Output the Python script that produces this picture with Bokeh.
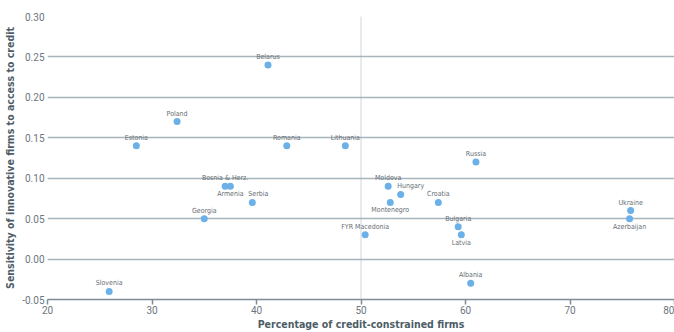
from bokeh.plotting import figure
from bokeh.models import ColumnDataSource, Span, FixedTicker, CustomJSTickFormatter
from bokeh.core.properties import value
from bokeh.embed import file_html
from bokeh.resources import INLINE

countries = ["Belarus", "Poland", "Estonia", "Romania", "Lithuania", "Russia",
             "Bosnia & Herz.", "Armenia", "Serbia", "Georgia", "Slovenia",
             "Moldova", "Hungary", "Montenegro", "Croatia", "FYR Macedonia",
             "Bulgaria", "Latvia", "Albania", "Ukraine", "Azerbaijan"]
credit_constrained = [41.1, 32.4, 28.5, 42.9, 48.5, 61.0,
                      37.0, 37.5, 39.6, 35.0, 25.9,
                      52.6, 53.8, 52.8, 57.4, 50.4,
                      59.3, 59.6, 60.5, 75.8, 75.7]
sensitivity = [0.24, 0.17, 0.14, 0.14, 0.14, 0.12,
               0.09, 0.09, 0.07, 0.05, -0.04,
               0.09, 0.08, 0.07, 0.07, 0.03,
               0.04, 0.03, -0.03, 0.06, 0.05]
x_ticks = [20, 30, 40, 50, 60, 70, 80]
y_ticks = [-0.05, 0.0, 0.05, 0.10, 0.15, 0.20, 0.25, 0.30]

# label placement (style only)
label_below = ["Armenia", "Montenegro", "Latvia", "Azerbaijan"]
label_shift_px = {"Hungary": 10, "Serbia": 6}

COND = "DejaVu Sans Condensed"


def subset(flag):
    idx = [i for i, c in enumerate(countries) if (c in label_below) == flag]
    return ColumnDataSource(dict(
        x=[credit_constrained[i] for i in idx],
        y=[sensitivity[i] for i in idx],
        t=[countries[i] for i in idx],
        dx=[label_shift_px.get(countries[i], 0) for i in idx]))


src_above = subset(False)
src_below = subset(True)
src = ColumnDataSource(dict(x=credit_constrained, y=sensitivity))

p = figure(width=674, height=332, x_range=(20, 80), y_range=(-0.05, 0.30),
           output_backend="svg", toolbar_location=None,
           min_border_top=16, min_border_right=0, min_border_left=47, min_border_bottom=33)
p.outline_line_color = None
p.background_fill_color = "white"

grid_col = "#a9b5bd"
p.xgrid.grid_line_color = None
p.ygrid.grid_line_color = grid_col
p.ygrid.grid_line_width = 1.5
p.ygrid.ticker = FixedTicker(ticks=y_ticks)

p.xaxis.ticker = FixedTicker(ticks=x_ticks)
p.yaxis.ticker = FixedTicker(ticks=y_ticks)
p.yaxis.formatter = CustomJSTickFormatter(code="return tick.toFixed(2);")

p.xaxis.axis_line_color = "#7f8d96"
p.xaxis.axis_line_width = 1.5
p.xaxis.major_tick_line_color = "#7f8d96"
p.xaxis.major_tick_line_width = 1.5
p.xaxis.major_tick_out = 5
p.xaxis.major_tick_in = 0
p.xaxis.minor_tick_line_color = None
p.xaxis.minor_tick_out = 0
p.yaxis.axis_line_color = None
p.yaxis.major_tick_line_color = None
p.yaxis.minor_tick_line_color = None
p.yaxis.major_tick_out = 0
p.yaxis.major_tick_in = 0
p.yaxis.minor_tick_out = 0

for ax in (p.xaxis, p.yaxis):
    ax.major_label_text_font = "Roboto"
    ax.major_label_text_font_size = "10px"
    ax.major_label_text_color = "#6b7680"
    ax.axis_label_text_font = COND
    ax.axis_label_text_font_style = "bold"
    ax.axis_label_text_color = "#4d5c66"

p.xaxis.axis_label_text_font_size = "10.5px"
p.yaxis.axis_label_text_font_size = "10.5px"
p.xaxis.axis_label = "Percentage of credit-constrained firms"
p.yaxis.axis_label = "Sensitivity of innovative firms to access to credit"
p.xaxis.major_label_standoff = 1
p.yaxis.major_label_standoff = 3
p.xaxis.axis_label_standoff = 1
p.yaxis.axis_label_standoff = 3

p.add_layout(Span(location=50, dimension="height", line_color="#a3aeb6",
                  line_width=1, line_dash="1 1"))

p.scatter("x", "y", source=src, size=7, fill_color="#6cb0e8", line_color=None)

common = dict(text="t", x_offset="dx", text_font=value(COND),
              text_font_size="7px", text_color="#666e74", text_align="center")
p.text("x", "y", source=src_above, text_baseline="bottom", y_offset=-4, **common)
p.text("x", "y", source=src_below, text_baseline="top", y_offset=4, **common)

open("out.html", "w").write(file_html(p, INLINE))
